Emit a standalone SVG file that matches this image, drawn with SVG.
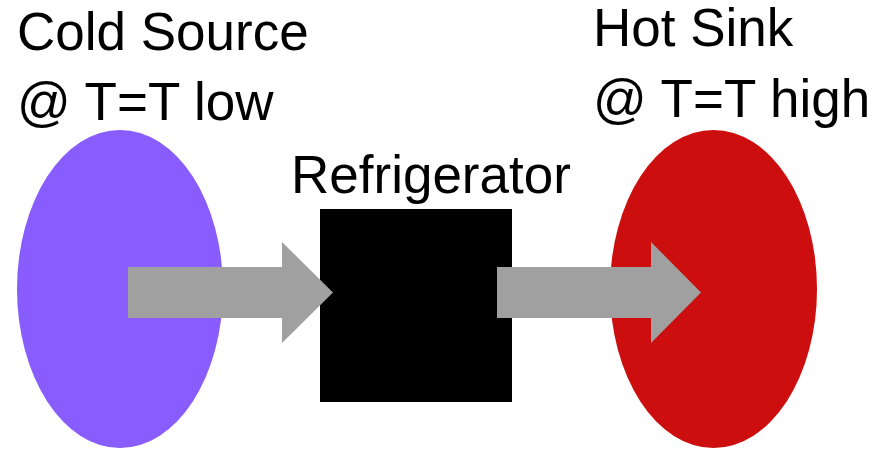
<svg xmlns="http://www.w3.org/2000/svg" width="887" height="449" viewBox="0 0 887 449">
  <style>
    .lbl { font-family: "Liberation Sans", Arial, sans-serif; font-size: 53px; fill: #000; }
    .arrow { fill: #A0A0A0; }
  </style>
  <rect width="887" height="449" fill="#fff"/>
  <g id="cold-source">
    <ellipse cx="120" cy="289" rx="103" ry="159" fill="#895CFD"/>
    <text class="lbl" x="17" y="50">Cold Source</text>
    <text class="lbl" x="17" y="120">@ T=T low</text>
  </g>
  <g id="refrigerator">
    <rect x="320" y="209" width="192" height="193" fill="#000"/>
    <text class="lbl" x="291" y="193">Refrigerator</text>
  </g>
  <g id="hot-sink">
    <ellipse cx="713.5" cy="289" rx="103.5" ry="159" fill="#CC0E0E"/>
    <text class="lbl" x="593" y="46">Hot Sink</text>
    <text class="lbl" x="593" y="117">@ T=T high</text>
  </g>
  <g id="connectors">
    <polygon class="arrow" points="128,267 282,267 282,242 333,292.5 282,343 282,318 128,318"/>
    <polygon class="arrow" points="497,267 651,267 651,242 701,292.5 651,343 651,318 497,318"/>
  </g>
</svg>
